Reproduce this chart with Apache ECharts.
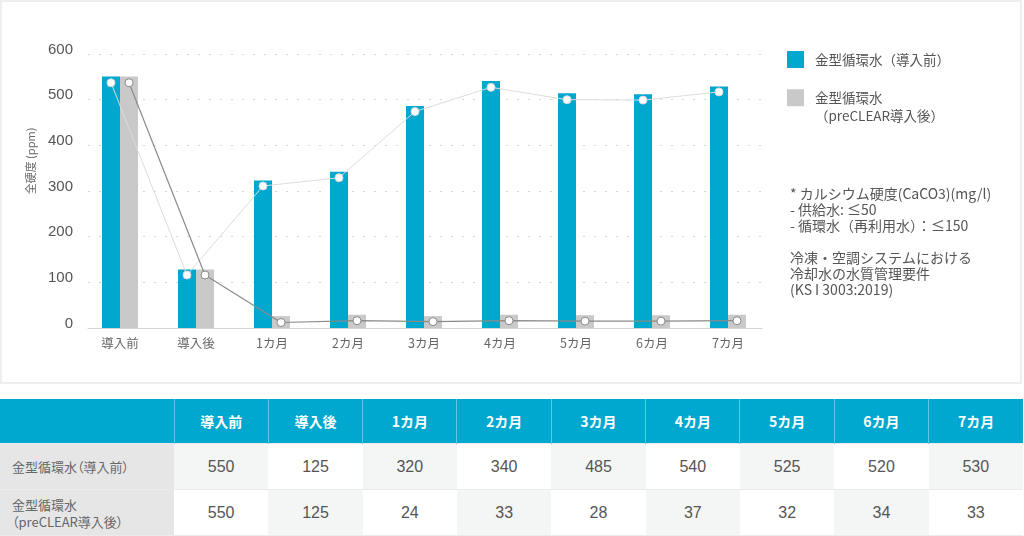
<!DOCTYPE html>
<html>
<head>
<meta charset="utf-8">
<script src="https://cdn.jsdelivr.net/npm/echarts@6/dist/echarts.min.js"></script>
<style>
  html, body { margin: 0; padding: 0; background: #fff; width: 1024px; height: 536px; overflow: hidden; }
  #chart { position: absolute; left: 0; top: 0; width: 1024px; height: 384px; }
  #frame { position: absolute; left: 0; top: 0; width: 1022px; height: 384px; box-sizing: border-box; border: 2px solid #eeeeee; pointer-events: none; }
  #tbl { position: absolute; left: 0; top: 399px; width: 1023px; border-collapse: collapse; table-layout: fixed;
         font-family: "Liberation Sans", "Noto Sans CJK JP", sans-serif; }
  #tbl th { background: #00a8cf; color: #fff; font-weight: bold; font-size: 14px; height: 44px; padding: 0;
            border-left: 1px solid #5fc6df; font-family: "Noto Sans CJK JP", sans-serif; }
  #tbl th:first-child { border-left: none; }
  #tbl td { height: 45px; padding: 0; text-align: center; font-size: 16px; color: #555; border-top: 1px solid #ebebeb; }
  #tbl td.rowhead { background: #e6e6e6; text-align: left; padding-left: 12px; font-size: 13px; color: #666; line-height: 17px;
                    font-family: "Noto Sans CJK JP", sans-serif; font-feature-settings: "palt"; }
  #tbl td.alt { background: #f4f6f6; }
  #tbl tr:last-child td { border-bottom: 1px solid #ebebeb; }
</style>
</head>
<body>
<div id="chart"></div>
<div id="frame"></div>
<table id="tbl"></table>
<script>
// ---- data ----
var categories = ['導入前', '導入後', '1カ月', '2カ月', '3カ月', '4カ月', '5カ月', '6カ月', '7カ月'];
var seriesNames = ['金型循環水（導入前）', '金型循環水（preCLEAR導入後）'];
var legendLines = [['金型循環水（導入前）'], ['金型循環水', '（preCLEAR導入後）']];
var barBefore = [551, 128, 323, 342, 486, 541, 514, 512, 529];
var barAfter = [551, 128, 26, 29, 26, 29, 28, 28, 29];
var lineBefore = [537, 116, 311, 329, 474, 527, 500, 499, 517];
var lineAfter = [537, 116, 12, 16, 14, 16, 15, 15, 16];
var yTicks = [0, 100, 200, 300, 400, 500, 600];
var yAxisTitle = '全硬度 (ppm)';
var noteText = '* カルシウム硬度(CaCO3)(mg/l)\n- 供給水: ≤50\n- 循環水（再利用水）：≤150\n\n冷凍・空調システムにおける\n冷却水の水質管理要件\n(KS I 3003:2019)';
var tableRowLabels = ['金型循環水（導入前）', '金型循環水<br>（preCLEAR導入後）'];
var tableBefore = ['550', '125', '320', '340', '485', '540', '525', '520', '530'];
var tableAfter = ['550', '125', '24', '33', '28', '37', '32', '34', '33'];

// ---- table ----
(function () {
  var t = document.getElementById('tbl');
  var html = '<colgroup><col style="width:174px">';
  for (var i = 0; i < categories.length; i++) html += '<col>';
  html += '</colgroup><tr><th></th>';
  categories.forEach(function (c) { html += '<th>' + c + '</th>'; });
  html += '</tr>';
  [tableBefore, tableAfter].forEach(function (row, r) {
    html += '<tr><td class="rowhead">' + tableRowLabels[r] + '</td>';
    row.forEach(function (v, i) {
      var alt = (i % 2 === r % 2);
      html += '<td' + (alt ? ' class="alt"' : '') + '>' + v + '</td>';
    });
    html += '</tr>';
  });
  t.innerHTML = html;
})();

// ---- chart ----
var chart = echarts.init(document.getElementById('chart'), null, { renderer: 'canvas' });
var FONT = '"Liberation Sans", "Noto Sans CJK JP", sans-serif';
var CJK = '"Noto Sans CJK JP", sans-serif';
var TOP = 54, BOTTOM = 56;
function hiddenY(gi) {
  return { type: 'value', gridIndex: gi, min: 0, max: 600, interval: 100, show: false };
}
function hiddenX(gi) {
  return { type: 'category', gridIndex: gi, data: categories, show: false };
}
var legendRich = {
  a: { color: '#555', fontSize: 13.5, fontFamily: CJK, lineHeight: 18, padding: [0, 0, 0, 6] },
  s: { fontSize: 13.5, lineHeight: 18 }
};
function legendFmt(name) {
  var idx = seriesNames.indexOf(name);
  var lines = legendLines[idx];
  var parts = lines.map(function (l) { return '{a|' + l + '}'; });
  if (lines.length > 1) parts.unshift('{s| }');
  return parts.join('\n');
}
var option = {
  animation: false,
  textStyle: { fontFamily: FONT },
  grid: [
    { left: 82, right: 258, top: TOP, bottom: BOTTOM },   // bars
    { left: 73, right: 267, top: TOP, bottom: BOTTOM },   // line over blue bars
    { left: 91, right: 249, top: TOP, bottom: BOTTOM },   // line over gray bars
    { left: 88, right: 262, top: TOP, bottom: BOTTOM }    // axis decoration
  ],
  xAxis: [
    { type: 'category', gridIndex: 0, data: categories,
      axisLine: { show: false }, axisTick: { show: false },
      axisLabel: { color: '#666', fontSize: 12.5, margin: 9, fontFamily: CJK } },
    hiddenX(1), hiddenX(2),
    { type: 'category', gridIndex: 3, data: categories,
      axisLine: { show: true, lineStyle: { color: '#d4d4d4', width: 1 } },
      axisTick: { show: false }, axisLabel: { show: false } }
  ],
  yAxis: [
    hiddenY(0), hiddenY(1), hiddenY(2),
    { type: 'value', gridIndex: 3, min: yTicks[0], max: yTicks[yTicks.length - 1], interval: yTicks[1] - yTicks[0],
      axisLine: { show: false }, axisTick: { show: false },
      axisLabel: { margin: 15, formatter: '{v|{value}}',
        rich: { v: { color: '#555', fontSize: 15, fontFamily: FONT, lineHeight: 16, padding: [0, 0, 9, 0] } } },
      splitLine: { show: true, showMinLine: false, lineStyle: { color: '#d6d6d6', type: [2, 9], width: 1 } } }
  ],
  legend: [
    { data: [seriesNames[0]], left: 787, top: 51, padding: 0, icon: 'rect', itemWidth: 17, itemHeight: 17,
      formatter: legendFmt, textStyle: { rich: legendRich } },
    { data: [seriesNames[1]], left: 787, top: 73, padding: 0, icon: 'rect', itemWidth: 17, itemHeight: 17,
      formatter: legendFmt, textStyle: { rich: legendRich } }
  ],
  graphic: [
    { type: 'text', x: 31, y: 161, rotation: Math.PI / 2,
      style: { text: yAxisTitle, fill: '#666', font: '11px ' + CJK, align: 'center', verticalAlign: 'middle' } },
    { type: 'text', left: 790, top: 186,
      style: { text: noteText, fill: '#555', font: '14px ' + CJK, lineHeight: 16 } }
  ],
  series: [
    { name: seriesNames[0], type: 'bar', xAxisIndex: 0, yAxisIndex: 0, data: barBefore,
      barWidth: 18, barGap: '0%', itemStyle: { color: '#00a8cf' }, z: 2 },
    { name: seriesNames[1], type: 'bar', xAxisIndex: 0, yAxisIndex: 0, data: barAfter,
      barWidth: 18, barGap: '0%', itemStyle: { color: '#c9c9c9' }, z: 2 },
    { name: 'line-before', type: 'line', xAxisIndex: 1, yAxisIndex: 1, data: lineBefore,
      symbol: 'circle', symbolSize: 8, showAllSymbol: true,
      lineStyle: { color: '#dcdcdc', width: 1 },
      itemStyle: { color: '#ffffff', borderColor: '#d8d8d8', borderWidth: 1 }, z: 5 },
    { name: 'line-after', type: 'line', xAxisIndex: 2, yAxisIndex: 2, data: lineAfter,
      symbol: 'circle', symbolSize: 8, showAllSymbol: true,
      lineStyle: { color: '#8a8a8a', width: 1.2 },
      itemStyle: { color: '#ffffff', borderColor: '#8a8a8a', borderWidth: 1 }, z: 6 }
  ]
};
chart.setOption(option);
</script>
</body>
</html>
